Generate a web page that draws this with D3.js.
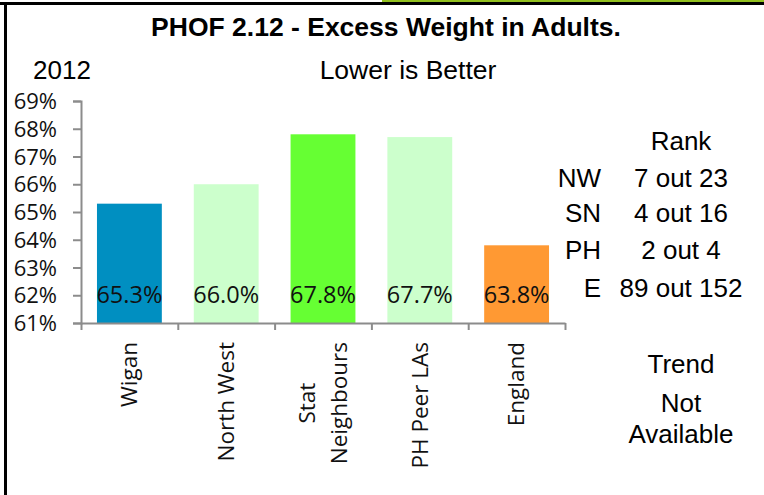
<!DOCTYPE html>
<html><head><meta charset="utf-8">
<script src="https://cdn.jsdelivr.net/npm/d3@7"></script>
<style>
html,body{margin:0;padding:0;background:#fff;}
svg{display:block;}
</style></head>
<body>
<script>
const categories = [["Wigan"], ["North West"], ["Stat", "Neighbours"], ["PH Peer LAs"], ["England"]];
const values = [65.3, 66.0, 67.8, 67.7, 63.8];
const barColors = ["#008fc1", "#ccffcc", "#66ff33", "#ccffcc", "#ff9933"];
const yTicks = [61, 62, 63, 64, 65, 66, 67, 68, 69];
const rankLabels = ["NW", "SN", "PH", "E"];
const rankValues = ["7 out 23", "4 out 16", "2 out 4", "89 out 152"];
const titleText = "PHOF 2.12 - Excess Weight in Adults.";
const yearText = "2012";
const subtitleText = "Lower is Better";
const trendLines = ["Trend", "Not", "Available"];

const W = 764, H = 495;
const svg = d3.select("body").append("svg").attr("width", W).attr("height", H);

// frame
svg.append("rect").attr("x", 382).attr("y", 0).attr("width", W - 382).attr("height", 2).attr("fill", "#92c01f");
svg.append("rect").attr("x", 0).attr("y", 2).attr("width", W).attr("height", 3).attr("fill", "#000");
svg.append("rect").attr("x", 4).attr("y", 2).attr("width", 3).attr("height", H).attr("fill", "#000");

const sans = "'Liberation Sans', Arial, sans-serif";
const open = "'Open Sans', 'Noto Sans', sans-serif";

svg.append("text").attr("x", 386).attr("y", 36).attr("text-anchor", "middle")
  .attr("font-family", sans).attr("font-weight", "bold").attr("font-size", 26.5)
  .text(titleText);
svg.append("text").attr("x", 62).attr("y", 79).attr("text-anchor", "middle")
  .attr("font-family", sans).attr("font-size", 26).text(yearText);
svg.append("text").attr("x", 408).attr("y", 79).attr("text-anchor", "middle")
  .attr("font-family", sans).attr("font-size", 26.5).text(subtitleText);

const x = d3.scaleBand().domain(d3.range(categories.length)).range([81, 565]).paddingInner(0.33).paddingOuter(0.165);
const y = d3.scaleLinear().domain([61, 69]).range([323, 101]);

// bars
svg.append("g").selectAll("rect").data(values).join("rect")
  .attr("x", (d, i) => x(i)).attr("width", x.bandwidth())
  .attr("y", d => y(d)).attr("height", d => y(61) - y(d))
  .attr("fill", (d, i) => barColors[i]);

// y axis
const yAxis = d3.axisLeft(y).tickValues(yTicks).tickFormat(d => d + "%").tickSize(8).tickPadding(16);
const gy = svg.append("g").attr("transform", "translate(81,0)").call(yAxis);
gy.select(".domain").attr("stroke", "#8c8c8c").attr("stroke-width", 2);
gy.selectAll(".tick line").attr("stroke", "#8c8c8c").attr("stroke-width", 2);
gy.selectAll(".tick text").attr("font-family", open).attr("font-size", 22).attr("fill", "#111").attr("dy", "0.35em");

// x axis
const xb = d3.scaleLinear().domain([0, categories.length]).range([81, 565]);
const xAxis = d3.axisBottom(xb).tickValues(d3.range(categories.length + 1)).tickFormat("").tickSize(7).tickSizeOuter(0);
const gx = svg.append("g").attr("transform", "translate(0,323)").call(xAxis);
gx.select(".domain").attr("stroke", "#8c8c8c").attr("stroke-width", 2);
gx.selectAll(".tick line").attr("stroke", "#8c8c8c").attr("stroke-width", 2);

// category labels
const lineH = 32;
categories.forEach((lines, i) => {
  const cx = x(i) + x.bandwidth() / 2;
  const n = lines.length;
  const g = svg.append("g").attr("transform", `translate(${cx},342) rotate(-90)`);
  lines.forEach((l, j) => {
    g.append("text")
      .attr("font-family", open).attr("font-size", 22.5).attr("fill", "#111")
      .attr("y", (j - (n - 1) / 2) * lineH).attr("dy", "0.35em")
      .attr("x", 0).attr("text-anchor", "end")
      .text(l);
  });
  if (n > 1) {
    const texts = g.selectAll("text").nodes();
    const widths = texts.map(t => t.getComputedTextLength());
    const mw = d3.max(widths);
    texts.forEach((t, j) => d3.select(t).attr("x", -(mw - widths[j]) / 2));
  }
});

// value labels
svg.append("g").selectAll("text").data(values).join("text")
  .attr("x", (d, i) => x(i) + x.bandwidth() / 2).attr("y", 303)
  .attr("text-anchor", "middle").attr("font-family", open).attr("font-size", 23.5).attr("fill", "#111")
  .text(d => d.toFixed(1) + "%");

// rank block
svg.append("text").attr("x", 681).attr("y", 150).attr("text-anchor", "middle")
  .attr("font-family", sans).attr("font-size", 26).text("Rank");
const rankY = [187, 222, 259, 297];
rankLabels.forEach((l, i) => {
  svg.append("text").attr("x", 601).attr("y", rankY[i]).attr("text-anchor", "end")
    .attr("font-family", sans).attr("font-size", 26).text(l);
  svg.append("text").attr("x", 681).attr("y", rankY[i]).attr("text-anchor", "middle")
    .attr("font-family", sans).attr("font-size", 26).text(rankValues[i]);
});
const trendY = [373, 412, 443];
trendLines.forEach((l, i) => {
  svg.append("text").attr("x", 681).attr("y", trendY[i]).attr("text-anchor", "middle")
    .attr("font-family", sans).attr("font-size", 26).text(l);
});
</script>
</body></html>
